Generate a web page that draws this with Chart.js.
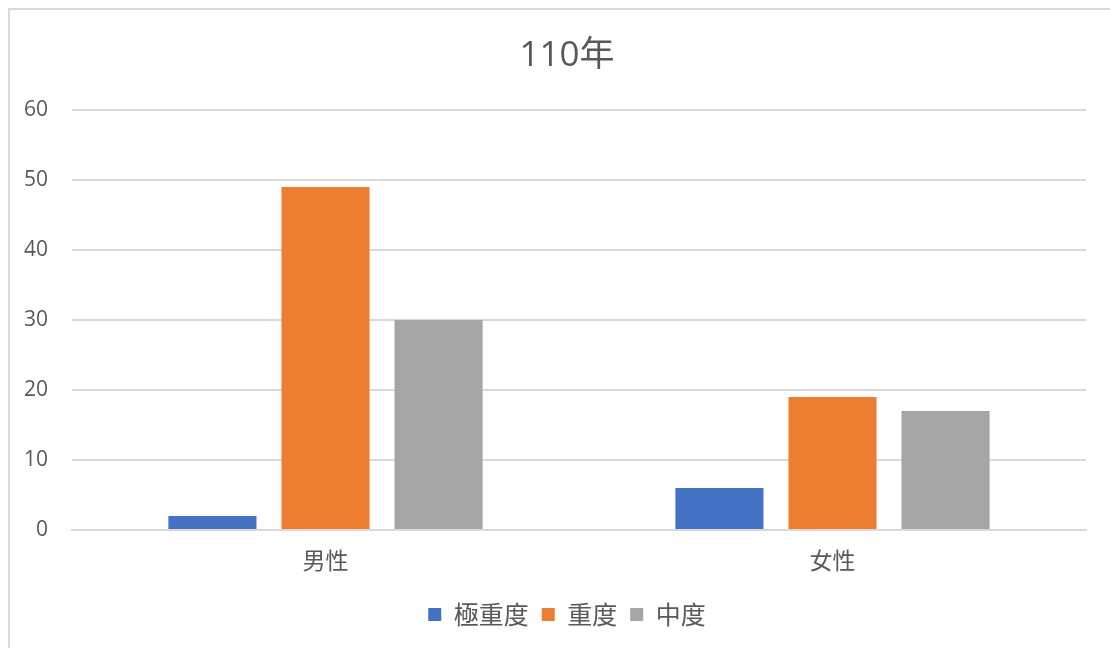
<!DOCTYPE html>
<html>
<head>
<meta charset="utf-8">
<script src="https://cdn.jsdelivr.net/npm/chart.js@4/dist/chart.umd.min.js"></script>
<style>
  html, body { margin: 0; padding: 0; background: #fff; overflow: hidden; }
  #frame {
    position: absolute; left: 8px; top: 8px;
    width: 1200px; height: 700px;
    border: 2px solid #d9d9d9;
  }
  #wrap { position: absolute; left: 0; top: 0; width: 1110px; height: 648px; }
</style>
</head>
<body>
<div id="frame"></div>
<div id="wrap"><canvas id="grafica"></canvas></div>
<script>
// datos del gráfico
const categorias = ['男性', '女性'];
const series = ['極重度', '重度', '中度'];
const valoresExtremo = [2, 6];
const valoresGrave = [49, 19];
const valoresModerado = [30, 17];
const colores = ['#4472C4', '#ED7D31', '#A5A5A5'];
const ticksY = [0, 10, 20, 30, 40, 50, 60];

const fuente = "'Open Sans', 'Noto Sans CJK TC', sans-serif";
const fuenteCJK = "'Noto Sans CJK TC', 'Open Sans', sans-serif";

const ctx = document.getElementById('grafica').getContext('2d');
const chart = new Chart(ctx, {
    type: 'bar',
    data: {
        labels: categorias,
        datasets: [
            { label: series[0], data: valoresExtremo, backgroundColor: colores[0] },
            { label: series[1], data: valoresGrave, backgroundColor: colores[1] },
            { label: series[2], data: valoresModerado, backgroundColor: colores[2] }
        ]
    },
    options: {
        responsive: true,
        maintainAspectRatio: false,
        animation: false,
        categoryPercentage: 0.669,
        barPercentage: 0.779,
        layout: { padding: { top: 35, right: 0, left: 24, bottom: 11 } },
        plugins: {
            title: {
                display: true,
                text: '110年',
                color: '#595959',
                font: { family: fuente, size: 35, weight: 'normal' },
                padding: { top: 0, bottom: 33 }
            },
            legend: {
                display: true,
                position: 'bottom',
                labels: {
                    color: '#595959',
                    font: { family: fuenteCJK, size: 25 },
                    boxWidth: 13,
                    boxHeight: 13,
                    padding: 13
                }
            },
            tooltip: { enabled: false }
        },
        scales: {
            x: {
                afterFit: function(scale) {
                    scale.height = 59;
                },
                grid: { display: false, drawTicks: false },
                border: { display: true, color: '#d9d9d9', width: 2 },
                ticks: {
                    color: '#595959',
                    font: { family: fuenteCJK, size: 23 },
                    padding: 16
                }
            },
            y: {
                min: 0,
                max: 60,
                afterBuildTicks: function(scale) {
                    scale.ticks = ticksY.map(v => ({ value: v }));
                },
                afterFit: function(scale) {
                    scale.width = 48;
                },
                grid: { color: '#d9d9d9', lineWidth: 2, drawTicks: false },
                border: { display: false },
                ticks: {
                    color: '#595959',
                    font: { family: fuente, size: 21 },
                    padding: 24
                }
            },
            // margen derecho vacío, para centrar leyenda y título como en el original
            margenDerecho: {
                type: 'linear',
                position: 'right',
                afterFit: function(scale) {
                    scale.width = 24;
                },
                grid: { display: false, drawTicks: false },
                border: { display: false },
                ticks: { display: false }
            }
        }
    }
});
</script>
</body>
</html>
